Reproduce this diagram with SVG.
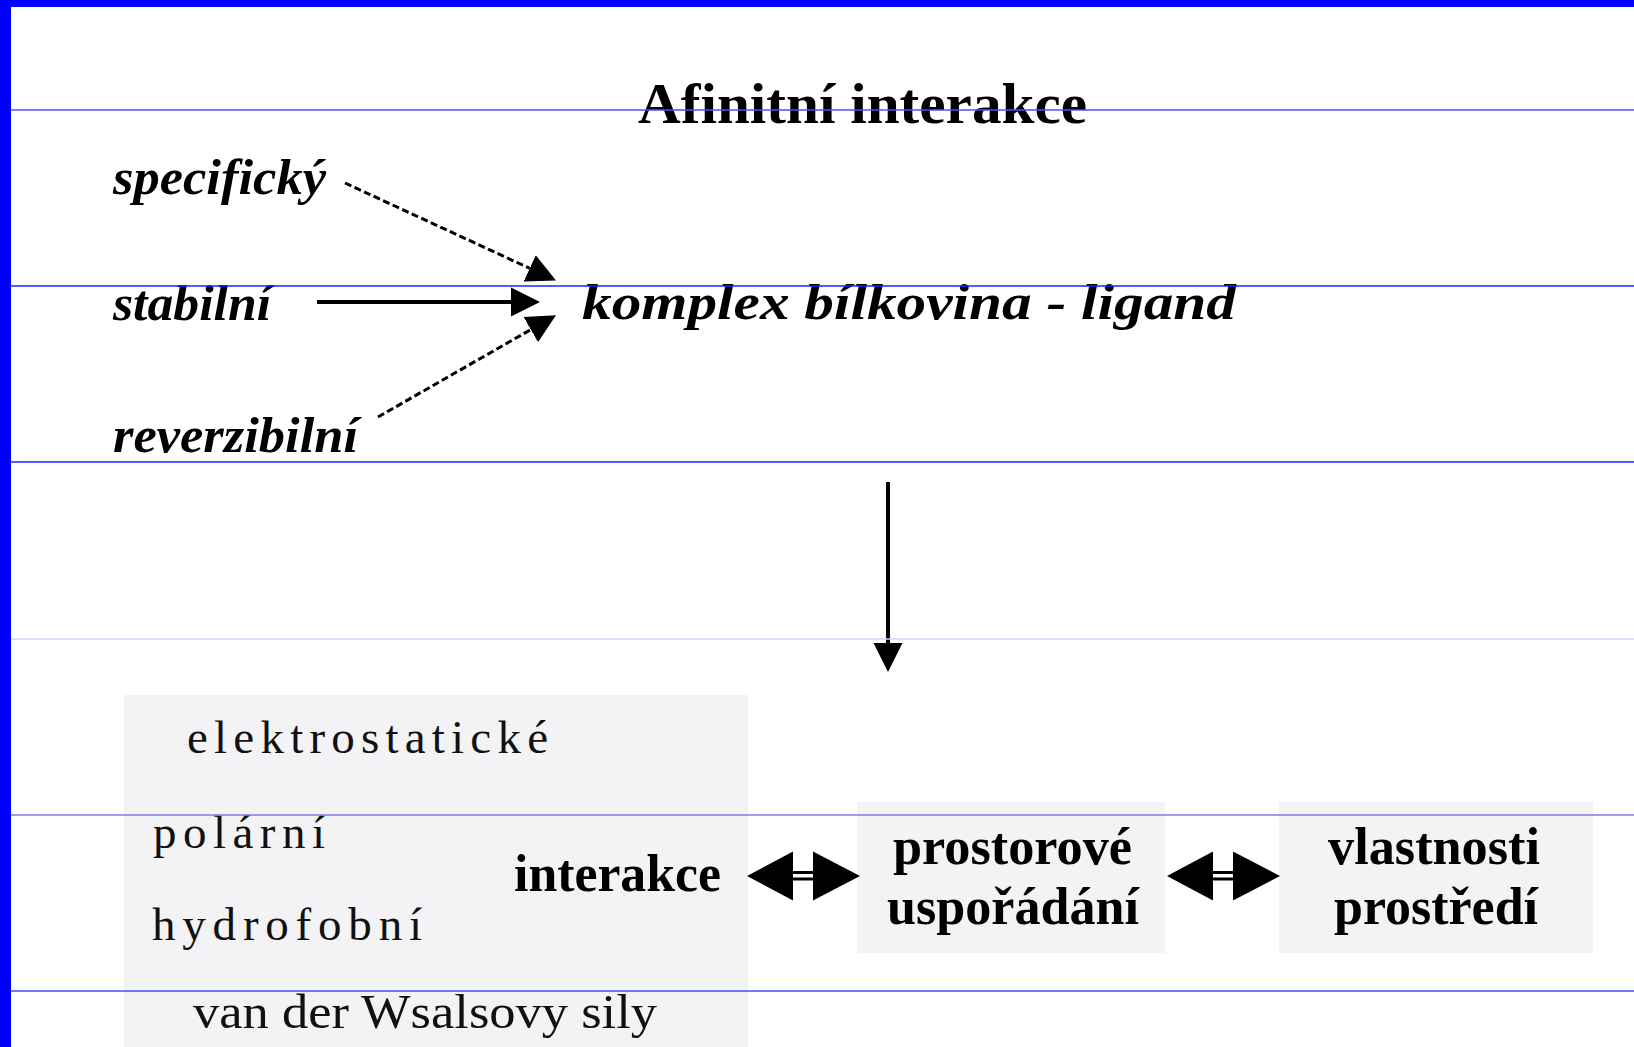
<svg xmlns="http://www.w3.org/2000/svg" width="1634" height="1047" viewBox="0 0 1634 1047">
<style>
.bi{font-family:"Liberation Serif","Times New Roman",serif;font-weight:bold;font-style:italic;fill:#000}
.b{font-family:"Liberation Serif","Times New Roman",serif;font-weight:bold;fill:#000}
.r{font-family:"Liberation Serif","Times New Roman",serif;fill:#111}
.box{fill:#f3f3f5}
.conn{stroke:#000;fill:none}
.dash{stroke-width:3;stroke-dasharray:7 3.5}
.rule{stroke-width:1.3}
</style>
<defs>
<marker id="head" viewBox="0 -15 30 30" markerWidth="30" markerHeight="30" refX="0" refY="0" markerUnits="userSpaceOnUse" orient="auto">
<path d="M0,-14.5 L29,0 L0,14.5 Z" fill="#000"/>
</marker>
<g id="dbl">
<path d="M0,0 L46,-24.5 L46,24.5 Z" fill="#000"/>
<path d="M113,0 L66,-24.5 L66,24.5 Z" fill="#000"/>
<rect x="45" y="-5" width="22" height="3" fill="#000"/>
<rect x="45" y="1.5" width="22" height="3" fill="#000"/>
</g>
</defs>
<rect x="0" y="0" width="1634" height="1047" fill="#fff"/>

<g id="boxes">
<rect class="box" x="124" y="695" width="624" height="352"/>
<rect class="box" x="857" y="802" width="308" height="151"/>
<rect class="box" x="1279" y="802" width="314" height="151"/>
</g>

<g id="title"><text class="b" x="638" y="123" font-size="58" textLength="449" lengthAdjust="spacingAndGlyphs">Afinitní interakce</text></g>
<g id="n-specificky"><text class="bi" x="113" y="194" font-size="50" textLength="213" lengthAdjust="spacingAndGlyphs">specifický</text></g>
<g id="n-stabilni"><text class="bi" x="113" y="320" font-size="50" textLength="158" lengthAdjust="spacingAndGlyphs">stabilní</text></g>
<g id="n-reverzibilni"><text class="bi" x="113" y="452" font-size="50" textLength="245" lengthAdjust="spacingAndGlyphs">reverzibilní</text></g>
<g id="n-komplex"><text class="bi" x="582" y="319" font-size="51" textLength="654" lengthAdjust="spacingAndGlyphs">komplex bílkovina - ligand</text></g>

<g id="n-interakce-group">
<text class="r" x="187" y="753" font-size="47" textLength="361" lengthAdjust="spacing">elektrostatické</text>
<text class="r" x="153" y="848" font-size="47" textLength="172" lengthAdjust="spacing">polární</text>
<text class="r" x="152" y="940" font-size="47" textLength="270" lengthAdjust="spacing">hydrofobní</text>
<text class="r" x="193" y="1028" font-size="48" textLength="464" lengthAdjust="spacingAndGlyphs">van der Wsalsovy sily</text>
<text class="b" x="514" y="891" font-size="52" textLength="207" lengthAdjust="spacingAndGlyphs">interakce</text>
</g>
<g id="n-prostorove">
<text class="b" x="893" y="864" font-size="52" textLength="239" lengthAdjust="spacingAndGlyphs">prostorové</text>
<text class="b" x="887" y="924" font-size="52" textLength="252" lengthAdjust="spacingAndGlyphs">uspořádání</text>
</g>
<g id="n-vlastnosti">
<text class="b" x="1328" y="864" font-size="52" textLength="212" lengthAdjust="spacingAndGlyphs">vlastnosti</text>
<text class="b" x="1334" y="924" font-size="52" textLength="204" lengthAdjust="spacingAndGlyphs">prostředí</text>
</g>

<g id="connectors">
<line class="conn dash" x1="345" y1="183" x2="529.7" y2="268.3" marker-end="url(#head)"/>
<line class="conn" stroke-width="4" x1="317" y1="302" x2="511" y2="302" marker-end="url(#head)"/>
<line class="conn dash" x1="378" y1="417" x2="530.8" y2="329.6" marker-end="url(#head)"/>
<line class="conn" stroke-width="4" x1="888" y1="482" x2="888" y2="643" marker-end="url(#head)"/>
<use href="#dbl" transform="translate(747,876)"/>
<use href="#dbl" transform="translate(1167,876)"/>
</g>

<g id="rules" class="rule">
<line x1="11" y1="110" x2="1634" y2="110" stroke="#5050f0"/>
<line x1="11" y1="286" x2="1634" y2="286" stroke="#2020ff"/>
<line x1="11" y1="462" x2="1634" y2="462" stroke="#2020ff"/>
<line x1="11" y1="639" x2="1634" y2="639" stroke="#d0d0f4"/>
<line x1="11" y1="815" x2="1634" y2="815" stroke="#7c7ce4"/>
<line x1="11" y1="991" x2="1634" y2="991" stroke="#4848f8"/>
</g>

<g id="border">
<rect x="0" y="0" width="11" height="1047" fill="#0000ff"/>
<rect x="0" y="0" width="1634" height="7" fill="#0000ff"/>
</g>
</svg>
